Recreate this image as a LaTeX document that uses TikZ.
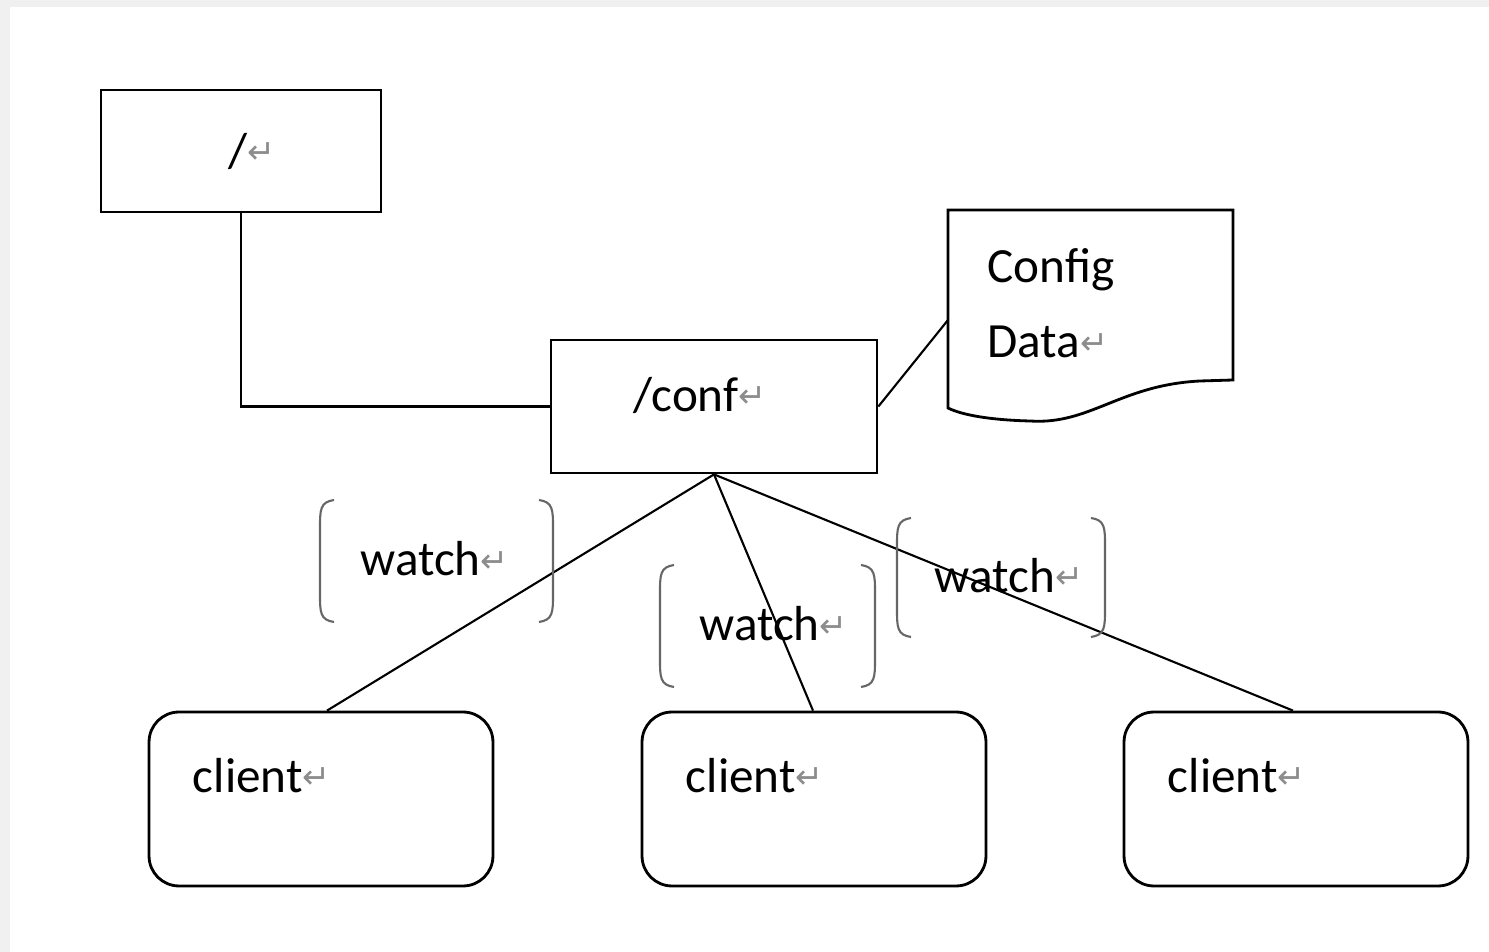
\documentclass[tikz,border=0pt]{standalone}
\usepackage{fontspec}
\setmainfont{Carlito}
\newfontfamily\retfont{DejaVu Sans}
\newcommand{\ret}{{\retfont\color{black!45}\fontsize{19}{19}\selectfont\raisebox{2pt}{↵}}}
\tikzset{
    znode/.style = {draw, line width=1.6pt, inner sep=0pt},
    clientbox/.style = {draw, line width=1.6pt, rounded corners=0.6cm, minimum width=6.88cm, minimum height=3.48cm},
    txt/.style = {font=\fontsize{28}{34}\selectfont, inner sep=0pt},
    link/.style = {line width=1.2pt},
    brack/.style = {line width=1.2pt, color=black!60}
}
\begin{document}
\begin{tikzpicture}[x=0.02cm, y=-0.02cm]
    \useasboundingbox (0,0) rectangle (1489,952);
    \fill[black!6] (0,0) rectangle (1489,952);
    \fill[white] (10,7) rectangle (1489,952);
    % znodes
    \node[znode, minimum width=5.6cm, minimum height=2.44cm] (root) at (241,151) {};
    \node[txt] (roottxt) at (252,151) {/\ret};
    \node[znode, minimum width=6.52cm, minimum height=2.66cm] (conf) at (714,406.5) {};
    \node[txt] (conftxt) at (700,395) {/conf\ret};
    \draw[link] (root.south) |- (conf.west);
    % config data
    \draw[line width=1.6pt] (948,210) -- (1233,210) -- (1233,380) -- (1200,381)
        .. controls (1120,385) and (1090,425) .. (1030,421)
        .. controls (990,420) and (962,415) .. (948,408) -- cycle;
    \coordinate (data) at (948,320);
    \node[txt, anchor=west] (cfg) at (987,270) {Config};
    \node[txt, anchor=west] (dat) at (987,342) {Data\ret};
    \draw[link] (conf.east) -- (data);
    % clients
    \foreach \i/\x/\d in {1/321/6, 2/814/-1, 3/1296/-3} {
        \node[clientbox] (c\i) at (\x,799) {};
        \node[txt, anchor=west] (ct\i) at ([shift={(45,65)}]c\i.north west) {client\ret};
        \draw[link] (conf.south) -- ([xshift=\d*0.02cm]c\i.north);
    }
    % watch brackets
    \foreach \i/\l/\r/\t/\b/\s in {1/320/553/500/622/-2, 2/660/875/565/687/6, 3/897/1105/518/637/8} {
        \draw[brack] (\l+14,\t) .. controls (\l,\t+2) and (\l,\t+10) .. (\l,\t+28) -- (\l,\b-28) .. controls (\l,\b-10) and (\l,\b-2) .. (\l+14,\b);
        \draw[brack] (\r-14,\t) .. controls (\r,\t+2) and (\r,\t+10) .. (\r,\t+28) -- (\r,\b-28) .. controls (\r,\b-10) and (\r,\b-2) .. (\r-14,\b);
        \node[txt] (w\i) at ({(\l+\r)/2+\s},{(\t+\b)/2-2}) {watch\ret};
    }
\end{tikzpicture}
\end{document}
